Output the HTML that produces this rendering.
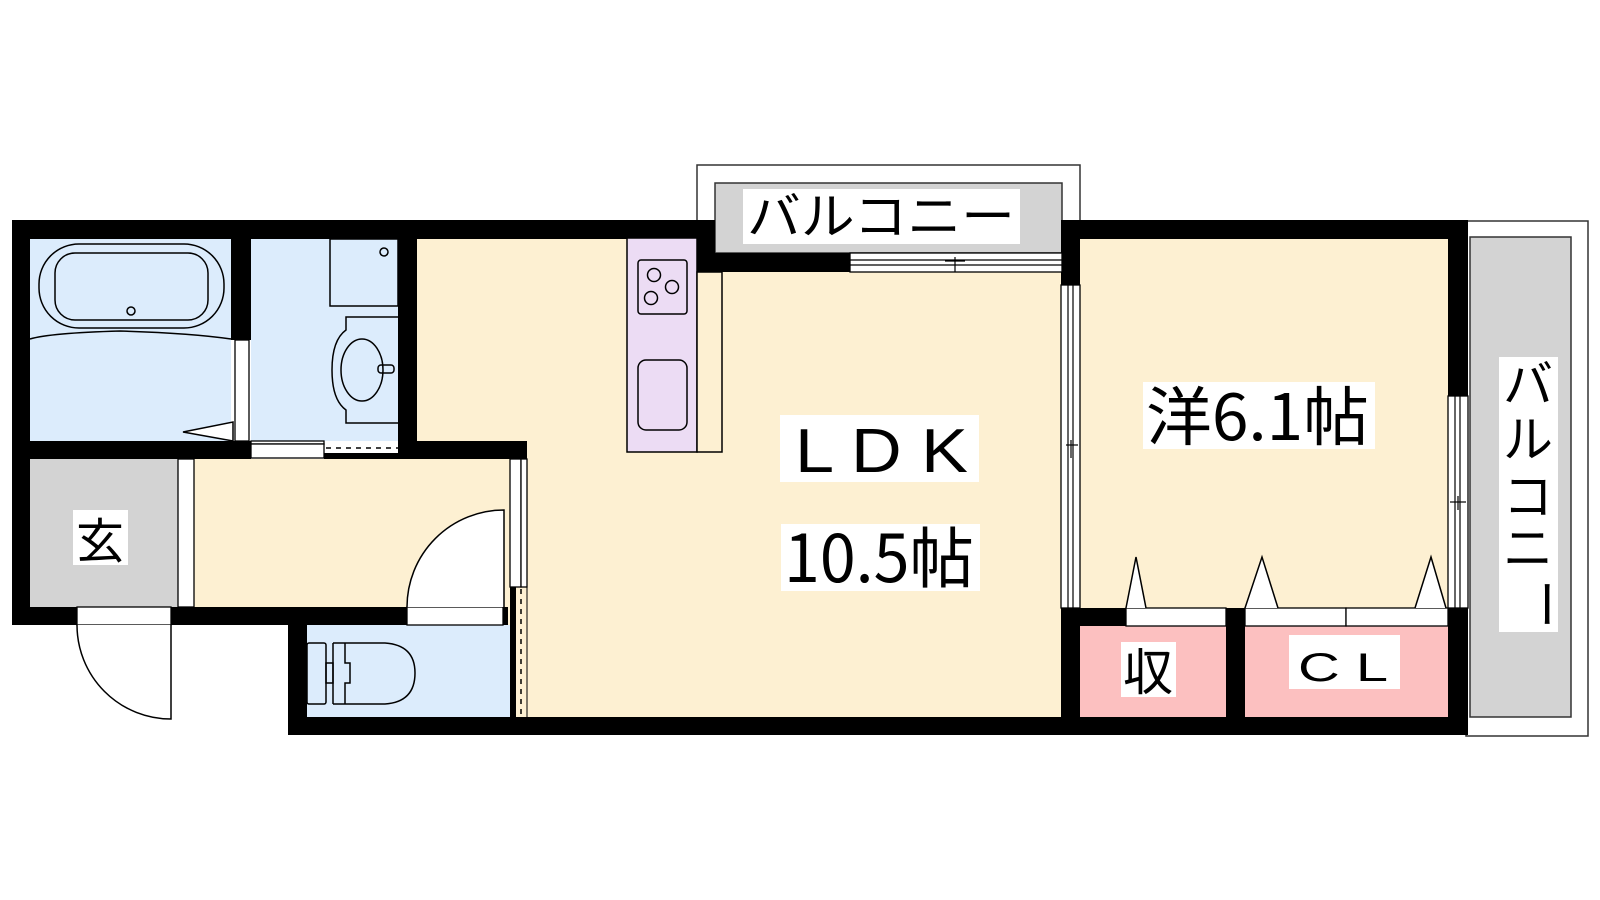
<!DOCTYPE html>
<html><head><meta charset="utf-8"><style>
html,body{margin:0;padding:0;background:#fff;}
svg{display:block}
text{font-family:"Liberation Sans","Noto Sans CJK JP",sans-serif;fill:#000}
.j{font-family:"Noto Sans CJK JP","Liberation Sans",sans-serif}
</style></head><body>
<svg width="1600" height="900" viewBox="0 0 1600 900" xmlns="http://www.w3.org/2000/svg">
<rect width="1600" height="900" fill="#fff"/>
<rect x="30" y="239" width="201" height="202" fill="#dcecfc"/>
<rect x="251" y="239" width="147" height="202" fill="#dcecfc"/>
<rect x="30" y="459" width="148" height="148" fill="#d3d3d3"/>
<rect x="178" y="459" width="340" height="148" fill="#fdf0d2"/>
<rect x="417" y="239" width="280" height="478" fill="#fdf0d2"/>
<rect x="697" y="272" width="364" height="445" fill="#fdf0d2"/>
<rect x="307" y="625" width="203" height="92" fill="#dcecfc"/>
<rect x="1080" y="239" width="368" height="369" fill="#fdf0d2"/>
<rect x="1080" y="626" width="146" height="91" fill="#fcc0c0"/>
<rect x="1245" y="626" width="203" height="91" fill="#fcc0c0"/>
<g stroke="#333" stroke-width="1.5">
<path d="M697 220 L697 165 L1080 165 L1080 220" fill="#fff"/>
<rect x="715" y="183" width="347" height="70" fill="#d3d3d3"/>
<rect x="1466" y="221" width="122" height="515" fill="#fff"/>
<rect x="1470" y="237" width="101" height="480" fill="#d3d3d3"/>
</g>
<g fill="#000">
<rect x="12" y="220" width="685" height="19"/>
<rect x="12" y="220" width="18" height="405"/>
<rect x="231" y="239" width="20" height="101"/>
<rect x="398" y="239" width="19" height="220"/>
<rect x="12" y="441" width="239" height="18"/>
<rect x="398" y="441" width="129" height="18"/>
<rect x="12" y="607" width="65" height="18"/>
<rect x="171" y="607" width="236" height="18"/>
<rect x="503" y="607" width="5" height="18"/>
<rect x="288" y="607" width="19" height="128"/>
<rect x="288" y="717" width="1180" height="18"/>
<rect x="697" y="220" width="18" height="52"/>
<rect x="697" y="253" width="153" height="19"/>
<rect x="1061" y="220" width="407" height="19"/>
<rect x="1061" y="220" width="19" height="65"/>
<rect x="1448" y="220" width="20" height="176"/>
<rect x="1061" y="608" width="19" height="127"/>
<rect x="1061" y="608" width="65" height="18"/>
<rect x="1226" y="608" width="19" height="127"/>
<rect x="1448" y="608" width="20" height="127"/>
</g>
<g fill="#fff" stroke="#000" stroke-width="1.3">
<rect x="235" y="340" width="14" height="101"/>
<rect x="178" y="459" width="16" height="148"/>
<rect x="77" y="607" width="94" height="18"/>
<rect x="407" y="607" width="96" height="18"/>
<rect x="251" y="441" width="73" height="3"/>
<rect x="251" y="444" width="73" height="14"/>
<rect x="510" y="459" width="11" height="128"/>
<rect x="521" y="459" width="6" height="128"/>
<rect x="850" y="253" width="212" height="19"/>
<rect x="1061" y="285" width="19" height="323"/>
<rect x="1448" y="396" width="20" height="212"/>
<rect x="1126" y="608" width="100" height="18"/>
<rect x="1245" y="608" width="101" height="18"/>
<rect x="1346" y="608" width="102" height="18"/>
</g>
<rect x="324" y="453" width="74" height="6" fill="#000"/>
<line x1="326" y1="448" x2="398" y2="448" stroke="#000" stroke-width="1.5" stroke-dasharray="5,5"/>
<rect x="510" y="587" width="6" height="130" fill="#000"/>
<line x1="521" y1="589" x2="521" y2="717" stroke="#000" stroke-width="1.5" stroke-dasharray="5,5"/>
<line x1="527" y1="587" x2="527" y2="717" stroke="#000" stroke-width="1"/>
<g stroke="#000" stroke-width="1.2" fill="none">
<line x1="850" y1="260" x2="1062" y2="260"/><line x1="850" y1="265" x2="1062" y2="265"/>
<line x1="955" y1="257" x2="955" y2="272"/><line x1="945" y1="261" x2="965" y2="261"/>
<line x1="1068" y1="285" x2="1068" y2="608"/><line x1="1073" y1="285" x2="1073" y2="608"/>
<line x1="1066" y1="445" x2="1078" y2="445"/><line x1="1071" y1="440" x2="1071" y2="458"/>
<line x1="1455" y1="396" x2="1455" y2="608"/><line x1="1460" y1="396" x2="1460" y2="608"/>
<line x1="1450" y1="502" x2="1466" y2="502"/><line x1="1458" y1="496" x2="1458" y2="510"/>
</g>
<g stroke="#000" stroke-width="1.5" fill="#fff">
<path d="M77 625 A94 94 0 0 0 171 719 L171 625"/>
<path d="M407 607 A97 97 0 0 1 504 510 L504 607"/>
<path d="M183 432 L233 422 L233 441 Z"/>
<path d="M1126 608 L1136 557 L1146 608"/>
<path d="M1245 608 L1262 557 L1278 608"/>
<path d="M1415 608 L1431 557 L1446 608"/>
</g>
<g stroke="#000" stroke-width="1.5" fill="none">
<path d="M30 339 Q50 333 120 331 Q190 333 231 339"/>
<rect x="39" y="244" width="185" height="84" rx="40"/>
<rect x="55" y="253" width="153" height="67" rx="20"/>
<circle cx="131" cy="311" r="4"/>
<rect x="330" y="239" width="68" height="67"/>
<circle cx="384" cy="252" r="4"/>
<path d="M398 317 L346 317 L346 330 Q332 340 332 370 Q332 400 346 410 L346 423 L398 423"/>
<ellipse cx="362" cy="370" rx="21" ry="31"/>
<rect x="378" y="365" width="16" height="8" rx="3"/>
<rect x="307" y="643" width="19" height="61" rx="2"/>
<rect x="326" y="663" width="7" height="20"/>
<path d="M333 643 L333 704 M345 643 L345 663 L350 663 L350 683 L345 683 L345 704"/>
<path d="M333 643 L385 643 Q415 645 415 673 Q415 702 385 704 L333 704"/>
<rect x="627" y="238" width="70" height="214" fill="#ecdcf4"/>
<rect x="697" y="272" width="25" height="180" fill="#fdf0d2"/>
<rect x="638" y="260" width="49" height="54" rx="3"/>
<circle cx="654" cy="275" r="6.5"/><circle cx="672" cy="287" r="6.5"/><circle cx="651" cy="298" r="6.5"/>
<rect x="638" y="360" width="49" height="70" rx="8"/>
</g>
<g fill="#fff">
<rect x="743" y="189" width="277" height="55"/>
<rect x="73" y="510" width="55" height="55"/>
<rect x="780" y="415" width="199" height="67"/>
<rect x="781" y="524" width="199" height="67"/>
<rect x="1143" y="382" width="232" height="67"/>
<rect x="1121" y="642" width="55" height="55"/>
<rect x="1289" y="635" width="111" height="54"/>
<rect x="1499" y="357" width="59" height="275"/>
</g>
<text class="j" x="747" y="234" font-size="50" textLength="268" lengthAdjust="spacingAndGlyphs">バルコニー</text>
<text class="j" x="76" y="558" font-size="48">玄</text>
<text x="795" y="472" font-size="62" textLength="173" lengthAdjust="spacingAndGlyphs">L D K</text>
<text class="j" x="784" y="582" font-size="66" textLength="190" lengthAdjust="spacingAndGlyphs">10.5帖</text>
<text class="j" x="1146" y="440" font-size="64" textLength="223" lengthAdjust="spacingAndGlyphs">洋6.1帖</text>
<text class="j" x="1123" y="690" font-size="50">収</text>
<text x="1298" y="681" font-size="40" textLength="90" lengthAdjust="spacingAndGlyphs">C L</text>
<text class="j" x="1528" y="402" font-size="50" text-anchor="middle">バ</text>
<text class="j" x="1528" y="457" font-size="50" text-anchor="middle">ル</text>
<text class="j" x="1528" y="514" font-size="50" text-anchor="middle">コ</text>
<text class="j" x="1528" y="566" font-size="50" text-anchor="middle">ニ</text>
<text class="j" x="1528" y="604" font-size="50" text-anchor="middle" transform="rotate(90 1528 604)">ー</text>
</svg>
</body></html>
